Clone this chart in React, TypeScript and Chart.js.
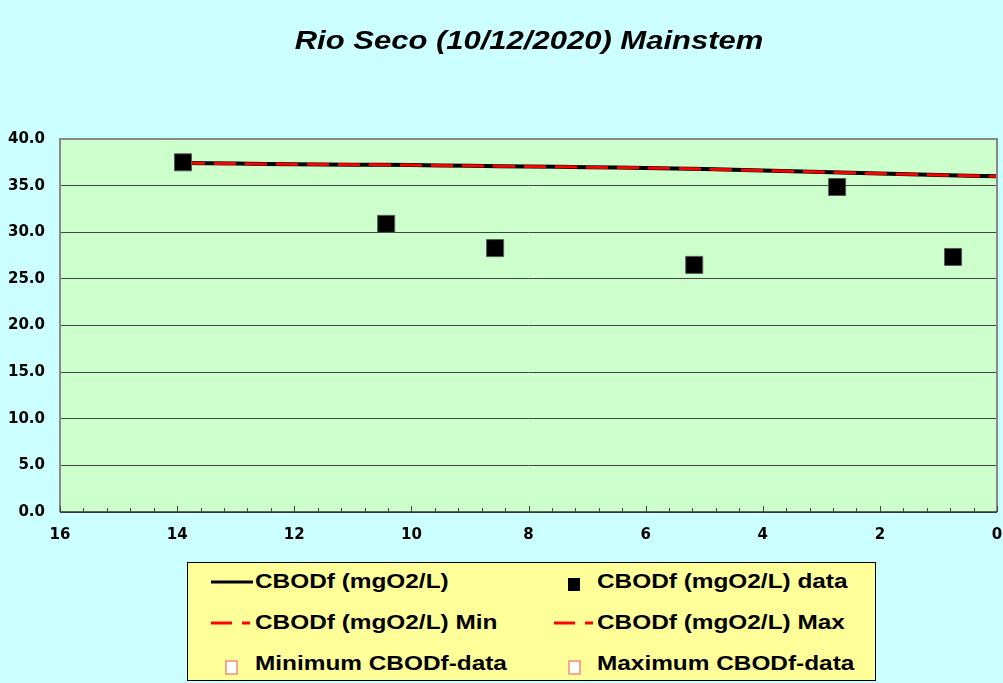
import React, { useEffect, useRef } from "react";
import { Chart, registerables } from "chart.js";

Chart.register(...registerables);

const titleText = "Rio Seco (10/12/2020) Mainstem";
const modelDistance = [13.9, 13, 12, 11, 10, 9, 8, 7, 6, 5, 4, 3, 2, 1, 0];
const modelValues = [37.42, 37.36, 37.3, 37.25, 37.2, 37.12, 37.05, 36.98, 36.9, 36.78, 36.62, 36.45, 36.3, 36.13, 36.0];
const modelMin = [37.42, 37.36, 37.3, 37.25, 37.2, 37.12, 37.05, 36.98, 36.9, 36.78, 36.62, 36.45, 36.3, 36.13, 36.0];
const modelMax = [37.42, 37.36, 37.3, 37.25, 37.2, 37.12, 37.05, 36.98, 36.9, 36.78, 36.62, 36.45, 36.3, 36.13, 36.0];
const dataDistance = [13.9, 10.43, 8.57, 5.17, 2.73, 0.75];
const dataValues = [37.5, 30.9, 28.3, 26.5, 34.85, 27.35];
const minDataValues: number[] = [];
const maxDataValues: number[] = [];
const legendLabels = [
  "CBODf (mgO2/L)",
  "CBODf (mgO2/L) data",
  "CBODf (mgO2/L) Min",
  "CBODf (mgO2/L) Max",
  "Minimum CBODf-data",
  "Maximum CBODf-data",
];

const FONT = "'Liberation Sans', Arial, sans-serif";
const TICK_FONT = "DejaVu Sans";

const bgPlugin = {
  id: "bgPlugin",
  beforeDraw(chart: any) {
    const { ctx, chartArea } = chart;
    ctx.save();
    ctx.fillStyle = "#ccffcc";
    ctx.fillRect(chartArea.left, chartArea.top, chartArea.right - chartArea.left, chartArea.bottom - chartArea.top);
    ctx.restore();
  },
  afterDraw(chart: any) {
    const { ctx, chartArea } = chart;
    const xs = chart.scales.x;
    ctx.save();
    ctx.strokeStyle = "#888888";
    ctx.lineWidth = 2;
    ctx.beginPath();
    ctx.moveTo(chartArea.left, chartArea.bottom);
    ctx.lineTo(chartArea.left, chartArea.top);
    ctx.lineTo(chartArea.right, chartArea.top);
    ctx.lineTo(chartArea.right, chartArea.bottom);
    ctx.stroke();
    ctx.strokeStyle = "#333333";
    ctx.lineWidth = 1.5;
    ctx.beginPath();
    ctx.moveTo(chartArea.left, chartArea.bottom);
    ctx.lineTo(chartArea.right, chartArea.bottom);
    ctx.stroke();
    ctx.lineWidth = 1;
    ctx.strokeStyle = "#444444";
    for (let i = 0; i <= 40; i++) {
      const v = i * 0.4;
      const x = Math.round(xs.getPixelForValue(v)) + 0.5;
      const len = i % 5 === 0 ? 6 : 4;
      ctx.beginPath();
      ctx.moveTo(x, chartArea.bottom);
      ctx.lineTo(x, chartArea.bottom - len);
      ctx.stroke();
    }
    ctx.restore();
  },
};

function LegendLine({ dashed }: { dashed: boolean }) {
  return (
    <svg width="46" height="10" style={{ display: "block" }}>
      {dashed ? (
        <line x1="2" y1="5" x2="44" y2="5" stroke="#ff0000" strokeWidth="3" strokeDasharray="21 10 8 100" />
      ) : (
        <line x1="2" y1="5" x2="44" y2="5" stroke="#000000" strokeWidth="3" />
      )}
    </svg>
  );
}

function LegendSquare({ filled }: { filled: boolean }) {
  return (
    <svg width="46" height="16" style={{ display: "block" }}>
      {filled ? (
        <rect x="16" y="1" width="12" height="13" fill="#000000" />
      ) : (
        <rect x="17" y="2" width="11" height="13" fill="#ffffff" stroke="#ff5050" strokeWidth="1" />
      )}
    </svg>
  );
}

export default function App() {
  const ref = useRef<HTMLCanvasElement | null>(null);

  useEffect(() => {
    if (!ref.current) return;
    const chart = new Chart(ref.current, {
      type: "scatter",
      data: {
        datasets: [
          {
            label: legendLabels[1],
            data: dataDistance.map((d, i) => ({ x: d, y: dataValues[i] })),
            showLine: false,
            pointStyle: "rect",
            pointRadius: 12,
            backgroundColor: "#000000",
            borderColor: "#555555",
            borderWidth: 1,
            order: 0,
          },
          {
            label: legendLabels[3],
            data: modelDistance.map((d, i) => ({ x: d, y: modelMax[i] })),
            showLine: true,
            borderColor: "#ff0000",
            borderWidth: 2.5,
            borderDash: [22, 9],
            pointRadius: 0,
            tension: 0.3,
            order: 1,
          },
          {
            label: legendLabels[2],
            data: modelDistance.map((d, i) => ({ x: d, y: modelMin[i] })),
            showLine: true,
            borderColor: "#ff0000",
            borderWidth: 2.5,
            borderDash: [22, 9],
            pointRadius: 0,
            tension: 0.3,
            order: 2,
          },
          {
            label: legendLabels[0],
            data: modelDistance.map((d, i) => ({ x: d, y: modelValues[i] })),
            showLine: true,
            borderColor: "#000000",
            borderWidth: 4,
            pointRadius: 0,
            tension: 0.3,
            order: 3,
          },
          {
            label: legendLabels[4],
            data: minDataValues.map((v, i) => ({ x: dataDistance[i], y: v })),
            showLine: false,
            pointStyle: "rect",
            backgroundColor: "#ffffff",
            borderColor: "#ff0000",
            order: 4,
          },
          {
            label: legendLabels[5],
            data: maxDataValues.map((v, i) => ({ x: dataDistance[i], y: v })),
            showLine: false,
            pointStyle: "rect",
            backgroundColor: "#ffffff",
            borderColor: "#ff0000",
            order: 5,
          },
        ],
      },
      options: {
        animation: false,
        responsive: false,
        layout: { autoPadding: false, padding: { top: 139, bottom: 141, left: 0, right: 6 } },
        plugins: {
          legend: { display: false },
          title: { display: false },
          tooltip: { enabled: false },
        },
        scales: {
          x: {
            type: "linear",
            reverse: true,
            min: 0,
            max: 16,
            ticks: {
              stepSize: 2,
              color: "#000000",
              padding: 14,
              font: { family: TICK_FONT, size: 15, weight: "bold" },
            },
            grid: { display: false, drawTicks: false },
            border: { display: false },
            afterFit: (s: any) => {
              s.height = 30;
              s.paddingLeft = 0;
              s.paddingRight = 0;
            },
          },
          y: {
            min: 0,
            max: 40,
            ticks: {
              stepSize: 5,
              color: "#000000",
              padding: 15,
              font: { family: TICK_FONT, size: 15, weight: "bold" },
              callback: (v: any) => Number(v).toFixed(1),
            },
            grid: { color: "#444444", lineWidth: 1, drawTicks: false },
            border: { display: false },
            afterFit: (s: any) => {
              s.width = 60;
            },
          },
        },
      },
      plugins: [bgPlugin],
    });
    return () => chart.destroy();
  }, []);

  const textStyle: React.CSSProperties = {
    fontFamily: FONT,
    fontWeight: "bold",
    fontSize: 19.5,
    color: "#000000",
    whiteSpace: "nowrap",
    transform: "scaleX(1.25)",
    transformOrigin: "left center",
  };

  const rows: [React.ReactNode, string, React.ReactNode, string][] = [
    [<LegendLine dashed={false} />, legendLabels[0], <LegendSquare filled={true} />, legendLabels[1]],
    [<LegendLine dashed={true} />, legendLabels[2], <LegendLine dashed={true} />, legendLabels[3]],
    [<LegendSquare filled={false} />, legendLabels[4], <LegendSquare filled={false} />, legendLabels[5]],
  ];

  return (
    <div
      style={{
        position: "absolute",
        left: 0,
        top: 0,
        width: 1003,
        height: 683,
        background: "#ccffff",
        overflow: "hidden",
      }}
    >
      <canvas ref={ref} width={1003} height={683} style={{ position: "absolute", left: 0, top: 0 }} />
      <div
        style={{
          position: "absolute",
          left: 529,
          top: 26,
          transform: "translateX(-50%) scaleX(1.24)",
          whiteSpace: "nowrap",
          fontFamily: FONT,
          fontWeight: "bold",
          fontStyle: "italic",
          fontSize: 25,
          color: "#000000",
        }}
      >
        {titleText}
      </div>
      <div
        style={{
          position: "absolute",
          left: 187,
          top: 562,
          width: 689,
          height: 119,
          background: "#ffff99",
          border: "1px solid #000000",
          boxSizing: "border-box",
        }}
      >
        {rows.map((r, i) => (
          <div
            key={i}
            style={{ position: "absolute", top: 5 + i * 41, left: 0, width: "100%", height: 30 }}
          >
            <div style={{ position: "absolute", left: 21, top: 9 }}>{r[0]}</div>
            <div style={{ ...textStyle, position: "absolute", left: 67, top: 2 }}>{r[1]}</div>
            <div style={{ position: "absolute", left: 364, top: 9 }}>{r[2]}</div>
            <div style={{ ...textStyle, position: "absolute", left: 409, top: 2 }}>{r[3]}</div>
          </div>
        ))}
      </div>
    </div>
  );
}
